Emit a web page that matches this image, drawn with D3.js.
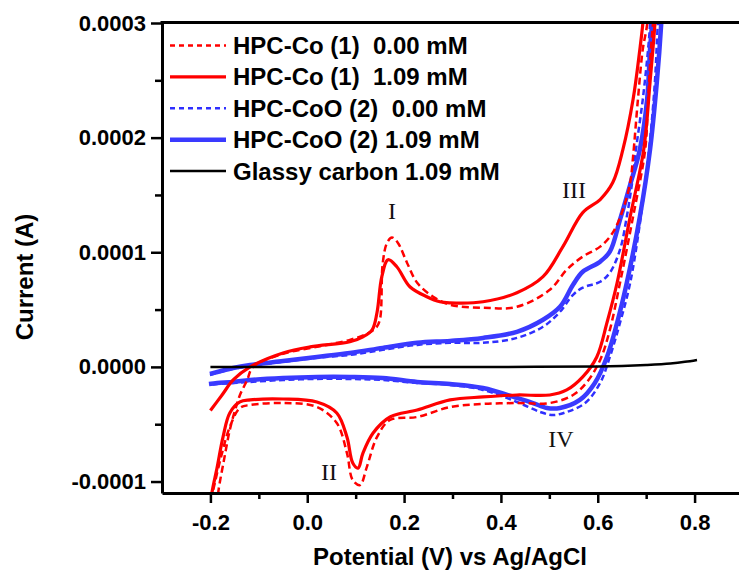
<!DOCTYPE html>
<html>
<head>
<meta charset="utf-8">
<script src="https://cdn.jsdelivr.net/npm/d3@7"></script>
<style>
  body { margin: 0; background: #fff; }
  svg { display: block; font-family: "Liberation Sans", Arial, sans-serif; }
  .tick text { font-weight: bold; fill: #000; }
  .legend-label { font-size: 24px; font-weight: bold; white-space: pre; }
  .axis-title { font-size: 24px; font-weight: bold; }
  .peak { font-family: "Liberation Serif", "Times New Roman", serif; font-size: 24px; fill: #111; }
</style>
</head>
<body>
<div id="chart"></div>
<script>
// ---------- Data (potential in V, current in µA) ----------
const hpcCo000V = [-0.190, -0.184, -0.172, -0.160, -0.149, -0.139, -0.124, -0.112, -0.050, 0.020, 0.088, 0.123, 0.142, 0.150, 0.156, 0.165, 0.175, 0.187, 0.206, 0.227, 0.260, 0.295, 0.363, 0.433, 0.501, 0.536, 0.569, 0.605, 0.631, 0.652, 0.667, 0.673, 0.683, 0.693, 0.702, 0.712,
  0.732, 0.714, 0.704, 0.698, 0.673, 0.646, 0.625, 0.605, 0.578, 0.549, 0.501, 0.433, 0.363, 0.295, 0.227, 0.171, 0.144, 0.123, 0.109, 0.094, 0.082, 0.061, 0.020, -0.050, -0.118, -0.139, -0.160, -0.176, -0.191, -0.197, -0.200]
const hpcCo000I = [-140, -110, -81.3, -55.1, -37.6, -24.5, -11.4, 0, 11.4, 17.5, 23.6, 28.8, 34.1, 41.1, 90.9, 108.4, 112.8, 108.4, 90.9, 73.4, 61.2, 54.2, 51.6, 52.4, 67.3, 84.8, 96.2, 104.9, 117.1, 137.2, 160.8, 183.6, 233.4, 277.1, 298.9, 360,
  360, 298.9, 233.4, 189.7, 131.1, 73.4, 32.3, 6.1, -13.1, -24.5, -31.5, -31.5, -32.3, -35.0, -43.7, -46.3, -61.2, -87.4, -103.1, -98.8, -75.2, -49.0, -35.0, -31.5, -33.2, -35.8, -52.4, -75.2, -101.4, -113.6, -130]

const hpcCo109V = [-0.200, -0.176, -0.153, -0.118, -0.050, 0.006, 0.088, 0.115, 0.134, 0.144, 0.154, 0.167, 0.185, 0.212, 0.247, 0.274, 0.295, 0.363, 0.433, 0.487, 0.528, 0.569, 0.605, 0.631, 0.652, 0.673, 0.687, 0.693, 0.705,
  0.727, 0.718, 0.708, 0.695, 0.667, 0.640, 0.619, 0.598, 0.569, 0.536, 0.501, 0.433, 0.363, 0.295, 0.227, 0.171, 0.136, 0.115, 0.105, 0.094, 0.082, 0.061, 0.020, -0.050, -0.118, -0.139, -0.160, -0.174, -0.186, -0.197, -0.201]
const hpcCo109I = [-38, -24.5, -11.4, 0, 12.2, 17.5, 21.9, 26.2, 32.3, 47.2, 78.7, 93.5, 87.4, 69.9, 61.2, 56.8, 55.9, 56.8, 64.7, 78.7, 104.9, 134.6, 146, 160.8, 189.7, 233.4, 277.1, 298.9, 360,
  360, 298.9, 248.3, 189.7, 131.1, 73.4, 38.5, 8.7, -8.7, -20.1, -24.5, -24.5, -26.2, -28.8, -37.6, -43.7, -57.7, -75.2, -88.3, -83.9, -61.2, -40.2, -30.6, -28.0, -28.8, -30.6, -40.2, -61.2, -87.4, -110.1, -125]

const hpcCoO000V = [-0.201, -0.153, -0.118, -0.050, 0.020, 0.088, 0.156, 0.227, 0.295, 0.363, 0.433, 0.487, 0.522, 0.549, 0.569, 0.605, 0.625, 0.646, 0.660, 0.671, 0.679, 0.693, 0.704, 0.708, 0.713,
  0.734, 0.724, 0.718, 0.706, 0.689, 0.667, 0.646, 0.625, 0.605, 0.574, 0.536, 0.508, 0.481, 0.433, 0.363, 0.295, 0.227, 0.156, 0.088, 0.020, -0.050, -0.118, -0.153, -0.186, -0.203]
const hpcCoO000I = [-7.0, -1.7, 0.9, 4.4, 7.9, 10.5, 14.9, 19.2, 21.0, 21.0, 25.3, 35.0, 48.1, 62.9, 69.1, 74.3, 82.2, 102.3, 131.1, 160.8, 189.7, 233.4, 277.1, 298.9, 360,
  360, 298.9, 248.3, 189.7, 131.1, 73.4, 38.5, 8.7, -14.0, -31.5, -39.3, -42.0, -39.3, -30.6, -20.1, -15.7, -14.0, -11.4, -10.5, -10.5, -11.4, -13.1, -14.0, -14.9, -15.7]

const hpcCoO109V = [-0.201, -0.153, -0.118, -0.050, 0.020, 0.088, 0.156, 0.227, 0.295, 0.363, 0.433, 0.487, 0.522, 0.549, 0.569, 0.605, 0.625, 0.646, 0.667, 0.687, 0.702, 0.708, 0.712, 0.717,
  0.738, 0.731, 0.722, 0.708, 0.687, 0.660, 0.640, 0.619, 0.594, 0.563, 0.522, 0.495, 0.466, 0.433, 0.363, 0.295, 0.227, 0.156, 0.088, 0.020, -0.050, -0.118, -0.153, -0.186, -0.203]
const hpcCoO109I = [-6.1, -0.9, 1.7, 5.2, 8.7, 12.2, 16.6, 21.0, 22.7, 25.3, 30.6, 41.1, 52.4, 71.7, 83.0, 91.8, 100.5, 128.5, 159.1, 189.7, 233.4, 277.1, 298.9, 360,
  360, 298.9, 248.3, 189.7, 131.1, 73.4, 38.5, 8.7, -14.0, -28.8, -35.8, -35.8, -31.5, -27.1, -18.4, -14.9, -13.1, -9.6, -8.7, -8.7, -9.6, -11.4, -13.1, -14.0, -14.9]

const glassyV = [-0.200, 0.000, 0.200, 0.400, 0.600, 0.650, 0.700, 0.750, 0.780, 0.805]
const glassyI = [0, 0, 0, 0, 0.3, 0.8, 1.7, 3.0, 4.4, 6.1]

const xTicks = [-0.2, 0, 0.2, 0.4, 0.6, 0.8]
const xTickLabels = ['-0.2', '0.0', '0.2', '0.4', '0.6', '0.8']
const xMinorTicks = [-0.1, 0.1, 0.3, 0.5, 0.7]
const yTicks = [-0.0001, 0, 0.0001, 0.0002, 0.0003]
const yTickLabels = ['-0.0001', '0.0000', '0.0001', '0.0002', '0.0003']
const yMinorTicks = [-0.00005, 0.00005, 0.00015, 0.00025]

const peakLabels = ['I', 'II', 'III', 'IV']
const peakV = [0.175, 0.045, 0.551, 0.524]
const peakI = [129, -98.6, 147.4, -69.8]

// ---------- Series table ----------
const series = [
  { label: 'HPC-Co (1)  0.00 mM', v: hpcCo000V, i: hpcCo000I, color: '#ff0000', width: 2.5, dash: '7,4', legendDash: '5,4' },
  { label: 'HPC-Co (1)  1.09 mM', v: hpcCo109V, i: hpcCo109I, color: '#ff0000', width: 3.2, dash: null, legendDash: null },
  { label: 'HPC-CoO (2)  0.00 mM', v: hpcCoO000V, i: hpcCoO000I, color: '#2f2fff', width: 2.5, dash: '6,3.5', legendDash: '5,4' },
  { label: 'HPC-CoO (2) 1.09 mM', v: hpcCoO109V, i: hpcCoO109I, color: '#3a3aff', width: 4.5, dash: null, legendDash: null },
  { label: 'Glassy carbon 1.09 mM', v: glassyV, i: glassyI, color: '#000000', width: 2.5, dash: null, legendDash: null }
]
const drawOrder = [2, 3, 0, 1, 4]

// ---------- Layout ----------
const width = 739
const height = 571
const plot = { left: 162, right: 743, top: 23, bottom: 493 }

const x = d3.scaleLinear().domain([-0.3, 0.9]).range([plot.left, plot.right])
const y = d3.scaleLinear().domain([-0.00011, 0.0003]).range([plot.bottom, plot.top])

const svg = d3.select('#chart').append('svg')
  .attr('width', width)
  .attr('height', height)

svg.append('defs').append('clipPath').attr('id', 'plot-clip')
  .append('rect')
  .attr('x', plot.left)
  .attr('y', plot.top)
  .attr('width', plot.right - plot.left)
  .attr('height', plot.bottom - plot.top)

// ---------- Curves ----------
const line = d3.line()
  .x(d => x(d[0]))
  .y(d => y(d[1] * 1e-6))
  .curve(d3.curveCatmullRom.alpha(0.5))

const curves = svg.append('g').attr('clip-path', 'url(#plot-clip)')
drawOrder.forEach(k => {
  const s = series[k]
  curves.append('path')
    .datum(s.v.map((v, j) => [v, s.i[j]]))
    .attr('fill', 'none')
    .attr('stroke', s.color)
    .attr('stroke-width', s.width)
    .attr('stroke-dasharray', s.dash)
    .attr('stroke-linejoin', 'round')
    .attr('d', line)
})

// ---------- Axes ----------
const styleAxis = (ax, fontSize) => {
  ax.select('.domain').attr('stroke-width', 3)
  ax.selectAll('.tick line').attr('stroke-width', 2.5)
  ax.selectAll('.tick text').style('font-size', fontSize + 'px')
}

svg.append('g')
  .attr('transform', `translate(${plot.left},0)`)
  .call(d3.axisLeft(y).tickValues(yMinorTicks).tickFormat('').tickSize(7))
  .call(ax => ax.select('.domain').remove())
  .call(ax => ax.selectAll('.tick line').attr('stroke-width', 2.5))

svg.append('g')
  .attr('transform', `translate(${plot.left},0)`)
  .call(d3.axisLeft(y).tickValues(yTicks).tickFormat((d, i) => yTickLabels[i]).tickSize(11).tickSizeOuter(0).tickPadding(5))
  .call(ax => styleAxis(ax, 22))

svg.append('g')
  .attr('transform', `translate(0,${plot.bottom})`)
  .call(d3.axisBottom(x).tickValues(xMinorTicks).tickFormat('').tickSize(6))
  .call(ax => ax.select('.domain').remove())
  .call(ax => ax.selectAll('.tick line').attr('stroke-width', 2.5))

svg.append('g')
  .attr('transform', `translate(0,${plot.bottom})`)
  .call(d3.axisBottom(x).tickValues(xTicks).tickFormat((d, i) => xTickLabels[i]).tickSize(10).tickSizeOuter(0).tickPadding(11))
  .call(ax => styleAxis(ax, 22))

// top frame line
svg.append('line')
  .attr('x1', plot.left - 1.5)
  .attr('x2', plot.right)
  .attr('y1', plot.top - 0.5)
  .attr('y2', plot.top - 0.5)
  .attr('stroke', '#000')
  .attr('stroke-width', 3)

// axis titles
svg.append('text')
  .attr('class', 'axis-title')
  .attr('x', 450)
  .attr('y', 565)
  .attr('text-anchor', 'middle')
  .text('Potential (V) vs Ag/AgCl')

svg.append('text')
  .attr('class', 'axis-title')
  .attr('transform', 'translate(33,277) rotate(-90)')
  .attr('text-anchor', 'middle')
  .text('Current (A)')

// ---------- Peak labels ----------
svg.selectAll('.peak')
  .data(peakLabels)
  .join('text')
  .attr('class', 'peak')
  .attr('x', (d, k) => x(peakV[k]))
  .attr('y', (d, k) => y(peakI[k] * 1e-6))
  .attr('text-anchor', 'middle')
  .text(d => d)

// ---------- Legend ----------
const legend = svg.append('g').attr('transform', 'translate(170,45.5)')
const items = legend.selectAll('.legend-item')
  .data(series)
  .join('g')
  .attr('class', 'legend-item')
  .attr('transform', (d, k) => `translate(0,${k * 31.4})`)

items.append('line')
  .attr('x1', 0)
  .attr('x2', 56)
  .attr('stroke', d => d.color)
  .attr('stroke-width', d => d.width)
  .attr('stroke-dasharray', d => d.legendDash)

items.append('text')
  .attr('class', 'legend-label')
  .attr('x', 63)
  .attr('dy', '0.35em')
  .text(d => d.label)
</script>
</body>
</html>
